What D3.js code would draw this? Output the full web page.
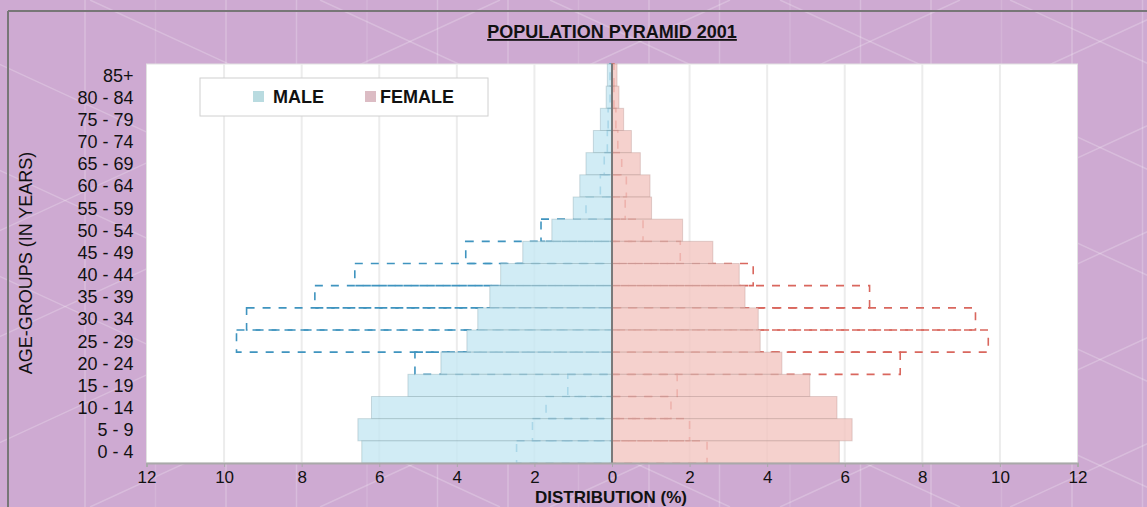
<!DOCTYPE html>
<html>
<head>
<meta charset="utf-8">
<script src="https://cdn.jsdelivr.net/npm/d3@7"></script>
<style>
  html, body { margin: 0; padding: 0; background: #ceaad2; }
  svg { display: block; font-family: "Liberation Sans", Arial, sans-serif; }
</style>
</head>
<body>
<svg id="chart" width="1147" height="507"></svg>
<script>
'use strict';

// age groups, top to bottom
var ageGroups = ['85+', '80 - 84', '75 - 79', '70 - 74', '65 - 69', '60 - 64', '55 - 59', '50 - 54',
  '45 - 49', '40 - 44', '35 - 39', '30 - 34', '25 - 29', '20 - 24', '15 - 19', '10 - 14', '5 - 9', '0 - 4'];

// filled bars (%)
var maleFilled = [0.12, 0.15, 0.3, 0.48, 0.67, 0.83, 1.0, 1.55, 2.3, 2.87, 3.15, 3.46, 3.74, 4.41, 5.26, 6.2, 6.55, 6.45];
var femaleFilled = [0.13, 0.18, 0.3, 0.5, 0.73, 0.98, 1.02, 1.82, 2.6, 3.28, 3.43, 3.77, 3.82, 4.38, 5.1, 5.8, 6.19, 5.86];

// dashed outline bars (%)
var maleDashed = [0.05, 0.05, 0.1, 0.12, 0.2, 0.3, 0.67, 1.83, 3.77, 6.63, 7.66, 9.42, 9.68, 5.08, 1.14, 1.7, 2.05, 2.46];
var femaleDashed = [0.05, 0.05, 0.1, 0.15, 0.25, 0.37, 0.34, 0.8, 1.76, 3.64, 6.64, 9.37, 9.7, 7.43, 1.68, 1.52, 2.0, 2.45];

var xTicks = [-12, -10, -8, -6, -4, -2, 0, 2, 4, 6, 8, 10, 12];
var legendItems = [
  {label: 'MALE', swatch: '#b9dbe0'},
  {label: 'FEMALE', swatch: '#dcbcc4'}
];

var W = 1147, H = 507;
var plot = {left: 146.5, right: 1077.5, top: 64, bottom: 463};

var svg = d3.select('#chart');

// background + decorative pattern
svg.append('rect').attr('width', W).attr('height', H).attr('fill', '#ceaad2');
var deco = svg.append('g').attr('stroke', '#fff').attr('fill', 'none');
d3.range(85, W, 70.5).forEach(function (vx, i) {
  deco.append('line').attr('x1', vx).attr('x2', vx).attr('y1', 0).attr('y2', H)
    .attr('stroke-opacity', i % 3 === 1 ? 0.12 : 0.22).attr('stroke-width', 1.5);
});
d3.range(-600, W + 600, 230).forEach(function (dx) {
  deco.append('line').attr('x1', dx).attr('y1', 0).attr('x2', dx + 1100).attr('y2', 507)
    .attr('stroke-opacity', 0.22).attr('stroke-width', 1.5);
  deco.append('line').attr('x1', dx + 1100).attr('y1', 0).attr('x2', dx).attr('y2', 507)
    .attr('stroke-opacity', 0.22).attr('stroke-width', 1.5);
});

// outer frame lines
svg.append('line').attr('x1', 8).attr('x2', W).attr('y1', 11).attr('y2', 11)
  .attr('stroke', '#777').attr('stroke-width', 2);
svg.append('line').attr('x1', 8).attr('x2', 8).attr('y1', 11).attr('y2', H)
  .attr('stroke', '#777').attr('stroke-width', 2);

var x = d3.scaleLinear().domain([-12, 12]).range([plot.left, plot.right]);
var y = d3.scaleBand().domain(ageGroups).range([plot.top, plot.bottom]).padding(0);

// plot area
svg.append('rect')
  .attr('x', plot.left).attr('y', plot.top)
  .attr('width', plot.right - plot.left).attr('height', plot.bottom - plot.top)
  .attr('fill', '#fff').attr('stroke', '#e2e2e2');

// grid
svg.append('g').selectAll('line').data(xTicks.slice(1, -1)).join('line')
  .attr('x1', function (d) { return x(d); }).attr('x2', function (d) { return x(d); })
  .attr('y1', plot.top).attr('y2', plot.bottom)
  .attr('stroke', '#ececec').attr('stroke-width', 2);

// dashed outline bars
function dashedBars (values, sign, color) {
  svg.append('g').selectAll('rect').data(values).join('rect')
    .attr('x', function (d) { return sign < 0 ? x(-d) : x(0); })
    .attr('y', function (d, i) { return y(ageGroups[i]); })
    .attr('width', function (d) { return x(d) - x(0); })
    .attr('height', y.bandwidth())
    .attr('fill', 'none')
    .attr('stroke', color)
    .attr('stroke-width', 1.6)
    .attr('stroke-dasharray', '8,8');
}
dashedBars(maleDashed, -1, '#3f94bf');
dashedBars(femaleDashed, 1, '#d9675e');

// filled bars, drawn over the dashed ones
function filledBars (values, sign, fill, edge) {
  svg.append('g').selectAll('rect').data(values).join('rect')
    .attr('x', function (d) { return sign < 0 ? x(-d) : x(0); })
    .attr('y', function (d, i) { return y(ageGroups[i]); })
    .attr('width', function (d) { return x(d) - x(0); })
    .attr('height', y.bandwidth())
    .attr('fill', fill)
    .attr('fill-opacity', 0.8)
    .attr('stroke', edge)
    .attr('stroke-opacity', 0.35)
    .attr('stroke-width', 1);
}
filledBars(maleFilled, -1, '#c6e7f2', '#7a9aa4');
filledBars(femaleFilled, 1, '#f3c6c1', '#b08a86');

// centre line
svg.append('line').attr('x1', x(0)).attr('x2', x(0)).attr('y1', plot.top).attr('y2', plot.bottom)
  .attr('stroke', '#7a7a7a').attr('stroke-width', 2);

// x axis
var xAxis = svg.append('g')
  .attr('transform', 'translate(0,' + plot.bottom + ')')
  .call(d3.axisBottom(x).tickValues(xTicks).tickFormat(function (d) { return Math.abs(d); })
    .tickSize(4).tickPadding(4));
xAxis.select('.domain').attr('stroke', '#a9a9a9').attr('stroke-width', 2);
xAxis.selectAll('.tick line').attr('stroke', '#a9a9a9');
xAxis.selectAll('text').attr('font-size', 17).attr('font-family', '"Liberation Sans", Arial, sans-serif')
  .attr('fill', '#111');

// y axis labels
var yAxis = svg.append('g')
  .attr('transform', 'translate(' + (plot.left - 13) + ',0)')
  .call(d3.axisLeft(y).tickSize(0).tickPadding(0));
yAxis.select('.domain').remove();
yAxis.selectAll('text').attr('font-size', 18).attr('font-family', '"Liberation Sans", Arial, sans-serif')
  .attr('fill', '#111').attr('dy', '0.36em');

// titles
svg.append('text').attr('x', 612).attr('y', 38).attr('text-anchor', 'middle')
  .attr('font-size', 18).attr('font-weight', 'bold').attr('text-decoration', 'underline')
  .attr('fill', '#111').text('POPULATION PYRAMID 2001');

svg.append('text').attr('x', 611).attr('y', 503).attr('text-anchor', 'middle')
  .attr('font-size', 17).attr('font-weight', 'bold').attr('fill', '#111')
  .text('DISTRIBUTION (%)');

svg.append('text').attr('transform', 'translate(32,263) rotate(-90)').attr('text-anchor', 'middle')
  .attr('font-size', 18).attr('fill', '#111').text('AGE-GROUPS (IN YEARS)');

// legend
var legend = svg.append('g');
legend.append('rect').attr('x', 200).attr('y', 78).attr('width', 288).attr('height', 38)
  .attr('fill', '#fff').attr('stroke', '#d0d0d0');
var legendX = [253, 365];
legendItems.forEach(function (item, i) {
  legend.append('rect').attr('x', legendX[i]).attr('y', 91).attr('width', 11).attr('height', 11)
    .attr('fill', item.swatch);
  legend.append('text').attr('x', legendX[i] + (i === 0 ? 20 : 15)).attr('y', 103)
    .attr('font-size', 18).attr('font-weight', 'bold').attr('fill', '#111').text(item.label);
});
</script>
</body>
</html>
